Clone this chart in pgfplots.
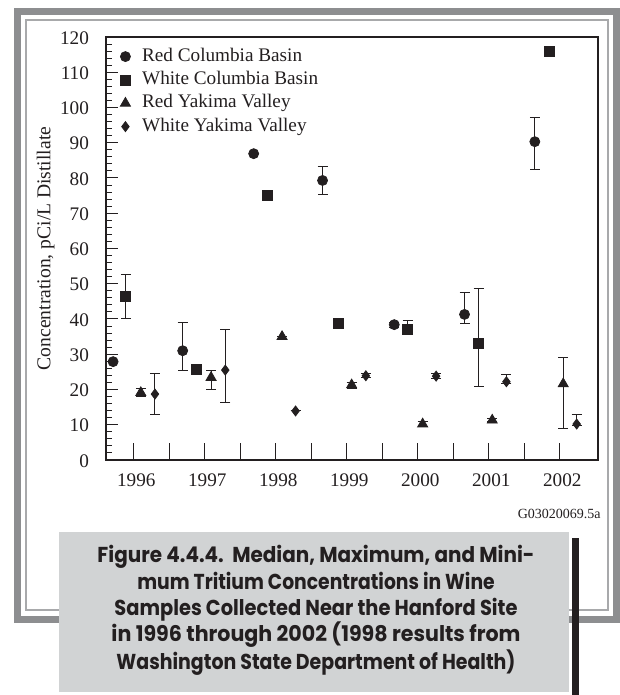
\documentclass[border=0pt]{standalone}
\usepackage{fontspec}
\setmainfont{Liberation Serif}
\newfontfamily\capfont{Poppins}
\usepackage{graphicx}
\usepackage{pgfplots}
\pgfplotsset{compat=1.18}
\definecolor{ink}{HTML}{231F20}
\definecolor{framegray}{HTML}{8D8E90}
\definecolor{linegray}{HTML}{A8A9AB}
\definecolor{boxgray}{HTML}{D1D3D4}
\newcommand{\capline}[2]{\resizebox{#1}{\height}{\capfont\bfseries\fontsize{10.8}{13}\selectfont #2}}
\begin{document}
\begin{tikzpicture}
\useasboundingbox (0,0) rectangle (310pt,347.5pt);
% page frame
\draw[framegray, line width=3.5pt] (8.5pt,37.75pt) rectangle (308.25pt,341.75pt);
\draw[linegray, line width=0.7pt] (13pt,42.5pt) rectangle (304pt,337.5pt);
\begin{axis}[
  at={(53pt,117.5pt)}, anchor=south west,
  scale only axis, width=246pt, height=211.5pt,
  xmin=1995.61, xmax=2002.54, ymin=0, ymax=120,
  axis line style={line width=1.2pt, ink},
  tick align=inside, xtick pos=left, ytick pos=left,
  tick style={ink, line width=0.5pt},
  major tick length=6pt, minor tick length=3pt,
  ytick={0,10,...,120}, minor y tick num=4,
  xtick={1996.5,1997.5,1998.5,1999.5,2000.5,2001.5},
  xticklabels={,,,,,},
  x tick style={/pgfplots/major tick length=8.5pt},
  extra x ticks={1996,1997,1998,1999,2000,2001,2002},
  extra x tick labels={1996,1997,1998,1999,2000,2001,2002},
  extra x tick style={/pgfplots/major tick length=0pt},
  tick label style={font=\fontsize{9.6}{11}\selectfont, text=ink, inner sep=0pt,
    /pgf/number format/assume math mode=true},
  xticklabel shift=6.5pt,
  xticklabel style={xshift=1.3pt},
  yticklabel shift=8.35pt,
  yticklabel style={yshift=-0.4pt},
  ylabel={Concentration, pCi/L Distillate},
  ylabel style={at={(axis description cs:-0.1037,0.5)}, anchor=south,
    inner sep=0pt, font=\fontsize{9.8}{11}\selectfont, text=ink},
  clip=false,
  legend cell align=left,
  legend image code/.code={\draw[#1] plot coordinates {(0pt,0pt)};},
  legend style={at={(0,1)}, anchor=north west, xshift=7pt, yshift=-4.85pt,
    draw=none, fill=none, inner sep=0pt, row sep=2.17pt, column sep=5.85pt,
    nodes={inner sep=0pt, text height=7pt, text depth=2.5pt, text=ink,
      font=\fontsize{9.6}{11}\selectfont}},
  every axis plot/.append style={only marks, ink,
    error bars/y dir=both, error bars/y explicit,
    error bars/error bar style={line width=0.5pt, ink},
    error bars/error mark options={rotate=90, mark size=2.5pt, line width=0.5pt, ink}},
]
% Red Columbia Basin
\addplot[mark=*, mark size=2.5pt] table[x=x, y=y, y error plus=ep, y error minus=em] {
x y ep em
1995.71 27.9 0 0
1996.69 31.0 8.1 5.5
1997.69 86.9 0 0
1998.66 79.3 4.0 4.1
1999.67 38.4 0.6 0.8
2000.66 41.3 6.2 2.5
2001.65 90.3 6.8 7.9
};
\addlegendentry{Red Columbia Basin}
% White Columbia Basin
\addplot[mark=square*, mark size=2.5pt] table[x=x, y=y, y error plus=ep, y error minus=em] {
x y ep em
1995.89 46.3 6.2 6.3
1996.89 25.7 0 0
1997.89 75.0 0 0
1998.88 38.8 0 0
1999.86 37.1 2.5 1.1
2000.86 33.0 15.7 12.2
2001.85 116.0 0.6 0
};
\addlegendentry{White Columbia Basin}
% Red Yakima Valley
\addplot[mark=triangle*, mark size=2.9pt] table[x=x, y=y, y error plus=ep, y error minus=em] {
x y ep em
1996.10 19.1 1.2 1.1
1997.09 23.4 1.9 3.4
1998.09 35.0 0 0
1999.07 21.3 0.7 1.0
2000.07 10.2 0.6 0.6
2001.05 11.3 0.4 0.4
2002.05 21.6 7.5 12.7
};
\addlegendentry{Red Yakima Valley}
% White Yakima Valley
\addplot[mark=diamond*, mark size=2.5pt] table[x=x, y=y, y error plus=ep, y error minus=em] {
x y ep em
1996.30 18.7 5.7 5.9
1997.29 25.5 11.5 9.1
1998.28 13.9 0 0
1999.27 23.9 0.6 0.6
2000.26 23.8 0.6 0.6
2001.25 22.2 2.0 0.4
2002.24 10.2 2.7 0.4
};
\addlegendentry{White Yakima Valley}
\end{axis}
\node[anchor=base east, font=\fontsize{7}{8}\selectfont, text=ink, inner sep=0pt] at (300.5pt,88pt) {G03020069.5a};
% caption box
\fill[boxgray] (29.5pt,1.5pt) rectangle (284.5pt,81.5pt);
\fill[ink] (286pt,0pt) rectangle (289.5pt,78.5pt);
\begin{scope}[every node/.style={anchor=base, inner sep=0pt, text=ink}]
\node at (158pt,66.15pt) {\capline{218.5pt}{Figure 4.4.4.\ \ Median, Maximum, and Mini-}};
\node at (158pt,52.85pt) {\capline{178.7pt}{mum Tritium Concentrations in Wine}};
\node at (158pt,39.5pt) {\capline{201.5pt}{Samples Collected Near the Hanford Site}};
\node at (158pt,26.65pt) {\capline{204.5pt}{in 1996 through 2002 (1998 results from}};
\node at (158pt,12.85pt) {\capline{199.5pt}{Washington State Department of Health)}};
\end{scope}
\end{tikzpicture}
\end{document}
